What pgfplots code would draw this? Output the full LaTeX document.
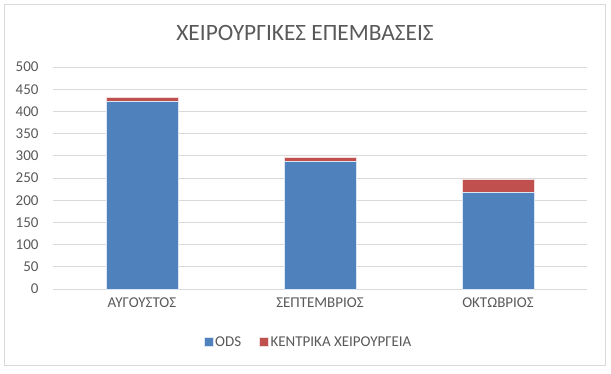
\documentclass[border=0pt]{standalone}
\usepackage{pgfplots}
\pgfplotsset{compat=1.18}
\usepackage{fontspec}
\setmainfont{Carlito}
\definecolor{txt}{HTML}{595959}
\definecolor{cblue}{HTML}{4F81BD}
\definecolor{cred}{HTML}{C0504D}
\definecolor{gridc}{HTML}{D9D9D9}
\begin{document}
\begin{tikzpicture}[x=1pt,y=1pt]
\useasboundingbox (0,0) rectangle (611,373);
\draw[gridc, line width=1pt] (4,8) rectangle (605,368);
\node[font=\fontsize{23.4}{26}\selectfont, text=txt] at (305,340) {ΧΕΙΡΟΥΡΓΙΚΕΣ ΕΠΕΜΒΑΣΕΙΣ};
\begin{axis}[
  at={(53pt,84pt)}, anchor=south west,
  scale only axis, width=534pt, height=222pt,
  ybar stacked, bar width=72pt,
  xmin=-0.5, xmax=2.5, ymin=0, ymax=500,
  xtick=data, xticklabels={ΑΥΓΟΥΣΤΟΣ, ΣΕΠΤΕΜΒΡΙΟΣ, ΟΚΤΩΒΡΙΟΣ},
  ytick distance=50,
  axis line style={draw=none},
  major tick length=0pt,
  ymajorgrids, grid style={gridc, line width=0.8pt},
  tick label style={font=\fontsize{15}{17}\selectfont, text=txt},
  /pgf/number format/assume math mode=true,
  yticklabel style={xshift=-11pt},
  xticklabel style={yshift=-5pt},
  legend style={at={(0.4785,-0.2387)}, anchor=center, draw=none, legend columns=2,
    font=\fontsize{15}{17}\selectfont, text=txt,
    /tikz/every even column/.append style={column sep=16pt},
    /tikz/every odd column/.append style={inner xsep=1pt}},
  legend image code/.code={\fill[#1] (0pt,-4.5pt) rectangle (9pt,4.5pt);},
]
\addplot[fill=cblue, draw=white!80!cblue, line width=0.4pt] coordinates {(0,423) (1,288) (2,218)};
\addplot[fill=cred, draw=white!80!cred, line width=0.4pt] coordinates {(0,9) (1,9) (2,29)};
\legend{ODS, ΚΕΝΤΡΙΚΑ ΧΕΙΡΟΥΡΓΕΙΑ}
\end{axis}
\end{tikzpicture}
\end{document}
